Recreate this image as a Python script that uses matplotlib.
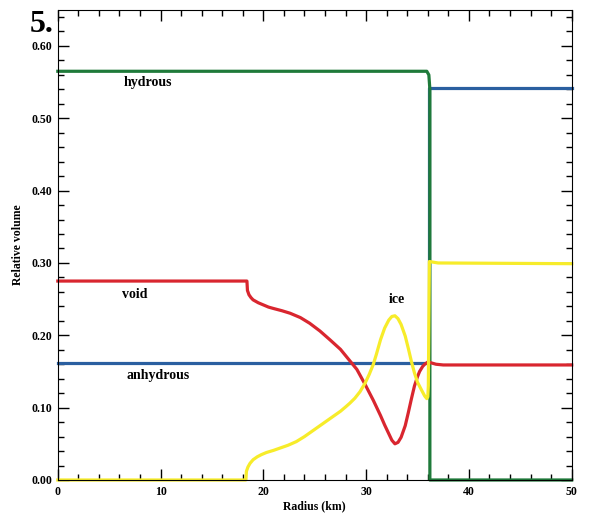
import matplotlib
matplotlib.use('Agg')
import matplotlib.pyplot as plt
from matplotlib.ticker import MultipleLocator

# curves (radius in km, relative volume)
hyd_x = [0, 35.9, 36.1, 36.2, 36.2, 50]
hyd_y = [0.565, 0.565, 0.560, 0.540, 0.0, 0.0]

anh_x = [0, 36.1, 36.1, 50]
anh_y = [0.162, 0.162, 0.542, 0.542]

void_x = [0, 18.4, 18.45, 18.6, 18.8, 19.0, 19.5, 20.0, 20.5, 21.0, 21.8, 22.6,
          23.6, 24.5, 25.5, 26.5, 27.5, 28.3, 29.1, 29.9, 30.7, 31.4, 31.8, 32.2,
          32.5, 32.8, 33.1, 33.4, 33.8, 34.1, 34.4, 34.7, 35.0, 35.2, 35.5, 35.7,
          36.0, 36.3, 36.8, 37.5, 50]
void_y = [0.275, 0.275, 0.262, 0.256, 0.252, 0.249, 0.245, 0.242, 0.239, 0.237,
          0.234, 0.2305, 0.2245, 0.2167, 0.206, 0.1935, 0.1806, 0.1667, 0.1528,
          0.132, 0.110, 0.089, 0.076, 0.064, 0.055, 0.050, 0.052, 0.059, 0.075,
          0.093, 0.112, 0.130, 0.143, 0.150, 0.157, 0.160, 0.163, 0.162, 0.160,
          0.159, 0.159]

ice_x = [0, 18.3, 18.35, 18.5, 18.7, 19.0, 19.4, 19.8, 20.3, 21.0, 21.6, 22.4,
         23.2, 24.0, 24.9, 25.7, 26.5, 27.0, 27.5, 28.0, 28.4, 28.9, 29.4, 29.9,
         30.3, 30.7, 31.0, 31.4, 31.8, 32.2, 32.5, 32.8, 33.1, 33.4, 33.8, 34.1,
         34.4, 34.7, 35.0, 35.4, 35.7, 35.9, 36.0, 36.05, 36.15, 37, 50]
ice_y = [0.0, 0.0, 0.012, 0.018, 0.023, 0.028, 0.032, 0.035, 0.038, 0.041, 0.044,
         0.048, 0.053, 0.060, 0.069, 0.077, 0.085, 0.090, 0.095, 0.101, 0.106,
         0.113, 0.122, 0.134, 0.146, 0.160, 0.174, 0.194, 0.210, 0.221, 0.226,
         0.227, 0.223, 0.215, 0.199, 0.182, 0.164, 0.148, 0.135, 0.124, 0.116,
         0.1125, 0.115, 0.130, 0.302, 0.300, 0.299]

yticks = [0.0, 0.1, 0.2, 0.3, 0.4, 0.5, 0.6]
xticks = [0, 10, 20, 30, 40, 50]

serif = 'Liberation Serif'

fig = plt.figure(figsize=(5.9, 5.15), dpi=100)
ax = fig.add_axes([0.098, 0.068, 0.871, 0.913])

lw = 2.3
ax.plot(anh_x, anh_y, color='#2a5fa0', lw=lw, clip_on=False, solid_joinstyle='round')
ax.plot(hyd_x, hyd_y, color='#1f7a3a', lw=lw, clip_on=False, solid_joinstyle='round')
ax.plot(void_x, void_y, color='#d9262f', lw=lw, clip_on=False, solid_joinstyle='round')
ax.plot(ice_x, ice_y, color='#f7ec2a', lw=lw, clip_on=False, solid_joinstyle='round')

ax.set_xlim(0, 50)
ax.set_ylim(0, 0.65)
ax.set_xticks(xticks)
ax.set_yticks(yticks)
ax.set_xticklabels([str(v) for v in xticks])
ax.set_yticklabels(['%.2f' % v for v in yticks])
ax.xaxis.set_minor_locator(MultipleLocator(2))
ax.yaxis.set_minor_locator(MultipleLocator(0.02))
ax.tick_params(which='both', direction='in', top=True, right=True, width=1)
ax.tick_params(which='major', length=8, pad=4)
ax.tick_params(which='minor', length=4)
for lab in ax.get_xticklabels() + ax.get_yticklabels():
    lab.set_fontfamily(serif)
    lab.set_fontweight('bold')
    lab.set_fontsize(8.5)

ax.set_xlabel('Radius (km)', fontfamily=serif, fontweight='bold', fontsize=8.5, labelpad=2)
ax.set_ylabel('Relative volume', fontfamily=serif, fontweight='bold', fontsize=8.5, labelpad=5.5)

lab_style = dict(fontfamily=serif, fontweight='bold', fontsize=10, ha='center', va='center')
ax.text(8.8, 0.55, 'hydrous', **lab_style)
ax.text(7.5, 0.257, 'void', **lab_style)
ax.text(9.8, 0.144, 'anhydrous', **lab_style)
ax.text(33.0, 0.249, 'ice', **lab_style)

fig.text(0.051, 0.938, '5.', fontfamily=serif, fontweight='bold', fontsize=23,
         ha='left', va='baseline')

fig.savefig('out.png', dpi=100)
